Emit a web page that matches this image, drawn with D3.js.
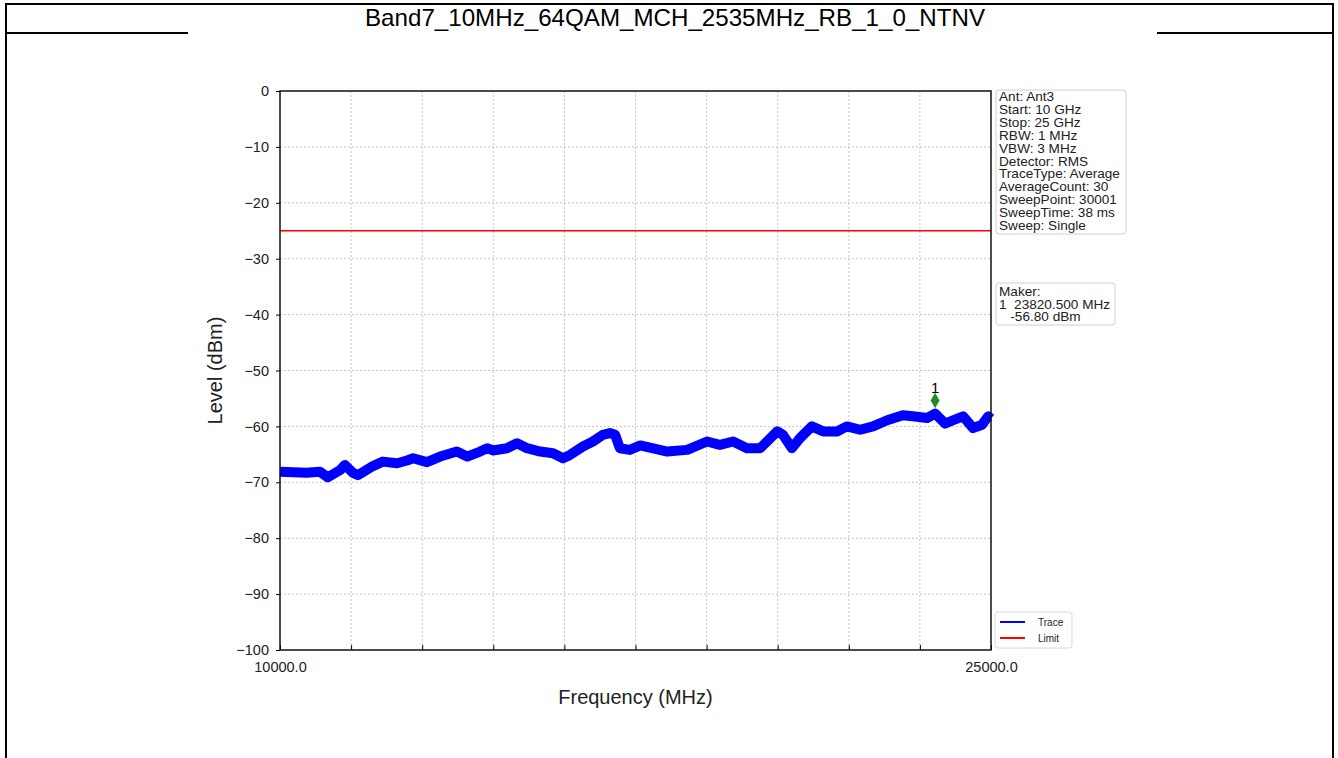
<!DOCTYPE html>
<html>
<head>
<meta charset="utf-8">
<script src="https://cdn.jsdelivr.net/npm/d3@7"></script>
<style>
  body { margin: 0; background: #fff; }
  text { font-family: "Liberation Sans", Arial, sans-serif; fill: #222; }
</style>
</head>
<body>
<div id="chart"></div>
<script>
// trace (MHz, dBm)
const freqMHz = [10000, 10560, 10840, 11010, 11270, 11370, 11540, 11650, 11960, 12170,
  12470, 12680, 12810, 13100, 13380, 13730, 13950, 14220, 14370, 14490,
  14790, 15000, 15210, 15490, 15760, 15970, 16120, 16390, 16600, 16810,
  16960, 17070, 17170, 17380, 17600, 18170, 18590, 19010, 19280, 19560,
  19850, 20130, 20490, 20610, 20800, 20970, 21220, 21460, 21750, 21960,
  22240, 22510, 22810, 23140, 23350, 23650, 23820, 24030, 24200, 24410,
  24620, 24810, 24940, 25000];
const levelDbm = [-68.1, -68.3, -68.1, -69.1, -67.8, -66.9, -68.3, -68.7, -67.1, -66.3,
  -66.6, -66.1, -65.7, -66.4, -65.4, -64.5, -65.4, -64.5, -63.9, -64.3,
  -63.9, -63.0, -63.9, -64.5, -64.8, -65.7, -65.1, -63.6, -62.7, -61.5,
  -61.2, -61.5, -63.9, -64.2, -63.4, -64.5, -64.2, -62.7, -63.3, -62.7,
  -63.9, -63.9, -60.9, -61.5, -63.9, -62.1, -60.0, -60.9, -60.9, -60.0,
  -60.6, -60.0, -58.9, -58.0, -58.2, -58.5, -57.7, -59.5, -58.9, -58.2,
  -60.3, -59.7, -58.2, -58.6];

const limitDbm = -25;
const markerFreq = 23820.5;
const markerLevel = -56.8;

const yTicks = [0, -10, -20, -30, -40, -50, -60, -70, -80, -90, -100];
const xTicks = [10000, 11500, 13000, 14500, 16000, 17500, 19000, 20500, 22000, 23500, 25000];
const xTickLabels = [10000, 25000];

const titleText = "Band7_10MHz_64QAM_MCH_2535MHz_RB_1_0_NTNV";
const infoLines = ["Ant: Ant3", "Start: 10 GHz", "Stop: 25 GHz", "RBW: 1 MHz", "VBW: 3 MHz",
  "Detector: RMS", "TraceType: Average", "AverageCount: 30", "SweepPoint: 30001",
  "SweepTime: 38 ms", "Sweep: Single"];
const markerLines = ["Maker:", "1  23820.500 MHz", "   -56.80 dBm"];
const legendItems = [{ name: "Trace", color: "#0000ff" }, { name: "Limit", color: "#ff0000" }];

const width = 1338;
const height = 758;

const svg = d3.select("#chart")
    .append("svg")
    .attr("width", width)
    .attr("height", height);

// page frame (the report table)
svg.append("line").attr("x1", 5).attr("x2", 1334).attr("y1", 4).attr("y2", 4)
    .attr("stroke", "#000").attr("stroke-width", 2);
svg.append("line").attr("x1", 6).attr("x2", 6).attr("y1", 3).attr("y2", height)
    .attr("stroke", "#000").attr("stroke-width", 2);
svg.append("line").attr("x1", 1333).attr("x2", 1333).attr("y1", 3).attr("y2", height)
    .attr("stroke", "#000").attr("stroke-width", 2);
svg.append("line").attr("x1", 5).attr("x2", 188).attr("y1", 33).attr("y2", 33)
    .attr("stroke", "#000").attr("stroke-width", 2);
svg.append("line").attr("x1", 1157).attr("x2", 1334).attr("y1", 33).attr("y2", 33)
    .attr("stroke", "#000").attr("stroke-width", 2);

svg.append("text")
    .attr("x", 675)
    .attr("y", 26)
    .attr("text-anchor", "middle")
    .attr("textLength", 620)
    .attr("lengthAdjust", "spacingAndGlyphs")
    .style("font-size", "24px")
    .style("fill", "#000")
    .text(titleText);

// plot
const x = d3.scaleLinear().domain([10000, 25000]).range([280, 991]);
const y = d3.scaleLinear().domain([-100, 0]).range([650, 91]);

const grid = svg.append("g");
grid.selectAll(".vgrid")
    .data(xTicks.slice(1, -1))
    .enter().append("line")
    .attr("x1", d => x(d)).attr("x2", d => x(d))
    .attr("y1", y(0)).attr("y2", y(-100))
    .attr("stroke", "#b8b8b8").attr("stroke-width", 0.8).attr("stroke-dasharray", "2,2");
grid.selectAll(".hgrid")
    .data(yTicks.slice(1, -1))
    .enter().append("line")
    .attr("x1", x(10000)).attr("x2", x(25000))
    .attr("y1", d => y(d)).attr("y2", d => y(d))
    .attr("stroke", "#b8b8b8").attr("stroke-width", 0.8).attr("stroke-dasharray", "2,2");

// limit
svg.append("line")
    .attr("x1", x(10000)).attr("x2", x(25000))
    .attr("y1", y(limitDbm)).attr("y2", y(limitDbm))
    .attr("stroke", "#ff0000").attr("stroke-width", 1.5);

// trace
const traceLine = d3.line()
    .x((d, i) => x(freqMHz[i]))
    .y(d => y(d));

svg.append("path")
    .datum(levelDbm)
    .attr("d", traceLine)
    .attr("fill", "none")
    .attr("stroke", "#0000ff")
    .attr("stroke-width", 10)
    .attr("stroke-linejoin", "round")
    .attr("stroke-linecap", "butt");

// axes
const yAxis = d3.axisLeft(y).tickValues(yTicks).tickSize(4).tickPadding(7);
svg.append("g")
    .attr("transform", `translate(${x(10000)},0)`)
    .call(yAxis)
    .call(g => g.select(".domain").remove())
    .selectAll("text").style("font-size", "14.5px").style("font-family", "Liberation Sans, Arial");

const xAxis = d3.axisBottom(x).tickValues(xTicks).tickSize(-5).tickPadding(12)
    .tickFormat(d => xTickLabels.includes(d) ? d.toFixed(1) : "");
svg.append("g")
    .attr("transform", `translate(0,${y(-100)})`)
    .call(xAxis)
    .call(g => g.select(".domain").remove())
    .selectAll("text").style("font-size", "14.5px").style("font-family", "Liberation Sans, Arial");

svg.append("rect")
    .attr("x", x(10000)).attr("y", y(0))
    .attr("width", x(25000) - x(10000)).attr("height", y(-100) - y(0))
    .attr("fill", "none").attr("stroke", "#111").attr("stroke-width", 1.5);

// marker
svg.append("path")
    .attr("d", d3.symbol().type(d3.symbolDiamond).size(70))
    .attr("transform", `translate(${x(markerFreq)},${y(markerLevel) - 8})`)
    .attr("fill", "#1f8a1f");
svg.append("text")
    .attr("x", x(markerFreq))
    .attr("y", y(markerLevel) - 16)
    .attr("text-anchor", "middle")
    .style("font-size", "15px")
    .style("fill", "#000")
    .text("1");

// axis titles
svg.append("text")
    .attr("transform", `translate(222,${(y(0) + y(-100)) / 2}) rotate(-90)`)
    .attr("text-anchor", "middle")
    .style("font-size", "20px")
    .text("Level (dBm)");
svg.append("text")
    .attr("x", (x(10000) + x(25000)) / 2)
    .attr("y", 704)
    .attr("text-anchor", "middle")
    .style("font-size", "20px")
    .text("Frequency (MHz)");

// info box
svg.append("rect")
    .attr("x", 996).attr("y", 90).attr("width", 130).attr("height", 144)
    .attr("rx", 3).attr("fill", "#fff").attr("stroke", "#d0d0d0");
svg.selectAll(".info")
    .data(infoLines)
    .enter().append("text")
    .attr("x", 999)
    .attr("y", (d, i) => 101 + i * 12.9)
    .style("font-size", "13.6px")
    .text(d => d);

// marker box
svg.append("rect")
    .attr("x", 996).attr("y", 283).attr("width", 119).attr("height", 42)
    .attr("rx", 3).attr("fill", "#fff").attr("stroke", "#d0d0d0");
svg.selectAll(".mk")
    .data(markerLines)
    .enter().append("text")
    .attr("x", 999)
    .attr("y", (d, i) => 296 + i * 12.5)
    .attr("xml:space", "preserve")
    .style("white-space", "pre")
    .style("font-size", "13.6px")
    .text(d => d);

// legend
svg.append("rect")
    .attr("x", 995).attr("y", 612).attr("width", 77).attr("height", 36)
    .attr("rx", 3).attr("fill", "#fff").attr("stroke", "#d8d8d8");
const leg = svg.selectAll(".leg")
    .data(legendItems)
    .enter().append("g")
    .attr("transform", (d, i) => `translate(1000,${622 + i * 16})`);
leg.append("line")
    .attr("x1", 0).attr("x2", 25)
    .attr("stroke", d => d.color).attr("stroke-width", 2);
leg.append("text")
    .attr("x", 38).attr("y", 4)
    .style("font-size", "10px")
    .text(d => d.name);
</script>
</body>
</html>
